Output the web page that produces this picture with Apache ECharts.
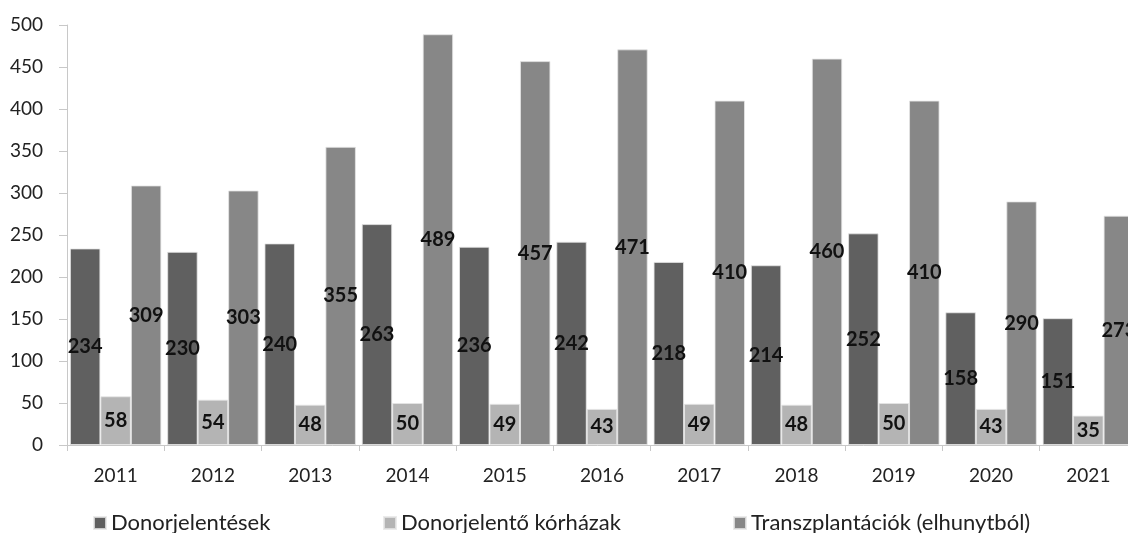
<!DOCTYPE html>
<html>
<head>
<meta charset="utf-8">
<script src="https://cdn.jsdelivr.net/npm/echarts@6/dist/echarts.min.js"></script>
<style>html,body{margin:0;padding:0;background:#fff}#c{width:1128px;height:533px}</style>
</head>
<body>
<div id="c"></div>
<script>
const categories = ['2011','2012','2013','2014','2015','2016','2017','2018','2019','2020','2021'];
const donorReports = [234,230,240,263,236,242,218,214,252,158,151];
const donorHospitals = [58,54,48,50,49,43,49,48,50,43,35];
const transplants = [309,303,355,489,457,471,410,460,410,290,273];
const seriesNames = ['Donorjelentések','Donorjelentő kórházak','Transzplantációk (elhunytból)'];
const colors = ['#606060','#b4b4b4','#878787'];

const FONT = 'Lato';
const chart = echarts.init(document.getElementById('c'), null, {renderer:'canvas'});
const lbl = {show:true, position:'inside', color:'#111', fontFamily:FONT, fontWeight:'bold', fontSize:20};
function mkSeries(i, data){
  return {name:seriesNames[i], type:'bar', data:data, barGap:'0%', barCategoryGap:'6%',
    itemStyle:{color:colors[i], borderColor:'rgba(230,230,230,0.8)', borderWidth:1},
    label:lbl, silent:true, animation:false};
}
const legendBase = {top:512, padding:0, itemWidth:12, itemHeight:12, icon:'rect', itemGap:5,
  textStyle:{fontFamily:FONT, fontSize:22, color:'#222'}, selectedMode:false};
chart.setOption({
  animation:false,
  color:colors,
  grid:{left:67, width:1070, top:25, height:420, containLabel:false, outerBoundsMode:'none'},
  legend:[
    Object.assign({}, legendBase, {left:93, data:[seriesNames[0]]}),
    Object.assign({}, legendBase, {left:383, data:[seriesNames[1]]}),
    Object.assign({}, legendBase, {left:733, data:[seriesNames[2]]})
  ],
  xAxis:{type:'category', data:categories,
    axisLine:{lineStyle:{color:'#c8c8c8', width:1}},
    axisTick:{show:true, length:6, lineStyle:{color:'#c8c8c8'}},
    axisLabel:{fontFamily:FONT, fontSize:19, color:'#222', margin:21}},
  yAxis:{type:'value', min:0, max:500, interval:50,
    axisLine:{show:true, lineStyle:{color:'#c8c8c8'}},
    axisTick:{show:true, length:8, lineStyle:{color:'#c8c8c8'}},
    splitLine:{show:false},
    axisLabel:{fontFamily:FONT, fontSize:19, color:'#222', margin:24}},
  series:[mkSeries(0, donorReports), mkSeries(1, donorHospitals), mkSeries(2, transplants)]
});
</script>
</body>
</html>
